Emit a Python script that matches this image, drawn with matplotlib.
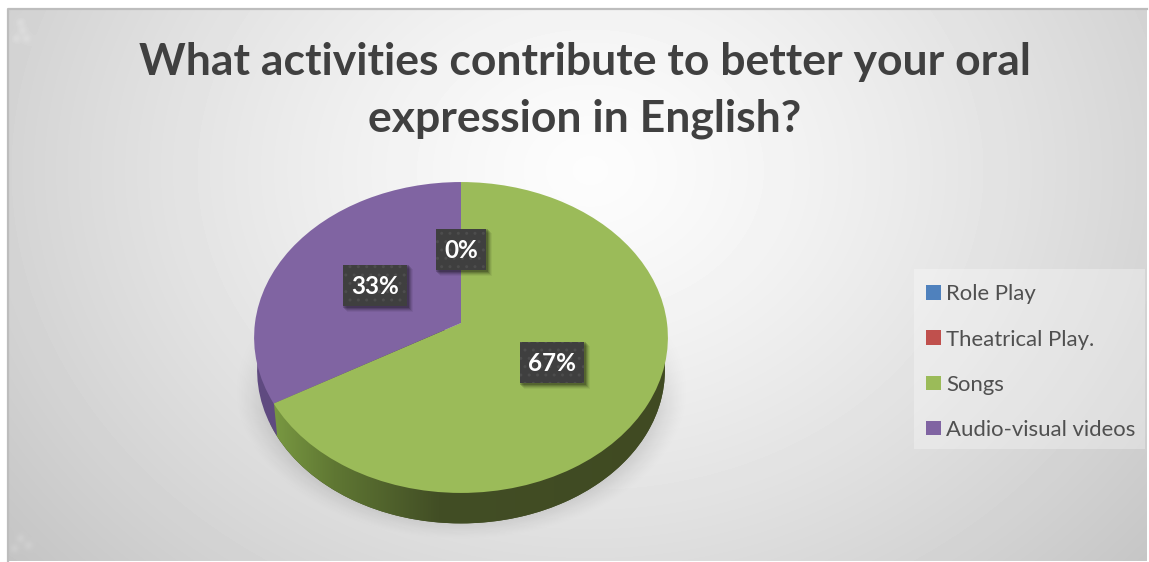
import numpy as np
import matplotlib
matplotlib.use("Agg")
import matplotlib.pyplot as plt
from matplotlib.patches import Rectangle, Circle
from matplotlib.path import Path
from matplotlib.transforms import Transform
from matplotlib.colors import LinearSegmentedColormap

plt.rcParams['font.family'] = ['Lato', 'DejaVu Sans']

TITLE = "What activities contribute to better your oral\nexpression in English?"
categories = ["Role Play", "Theatrical Play.", "Songs", "Audio-visual videos"]
values = [0, 0, 66.7, 33.3]
colors = ["#4f81bd", "#c0504d", "#9bbb59", "#8064a2"]
wall_colors = ["#3c5a80", "#803532", "#414c24", "#5f4a80"]
label_boxes = [None, (436, 229, 50, 41), (520, 342, 64, 41), (343, 265, 64, 41)]

W, H = 1149, 562


class DiscPerspective(Transform):
    """Maps the pie's unit circle on to a tilted disc seen in perspective."""
    input_dims = 2
    output_dims = 2
    is_separable = False
    has_inverse = False

    def __init__(self, cx, cy, r, a, b):
        super().__init__()
        self.p = (cx, cy, r, a, b)

    def transform_non_affine(self, pts):
        pts = np.asarray(pts, float)
        cx, cy, r, a, b = self.p
        d = 1 + b * pts[:, 1]
        return np.column_stack((cx + r * pts[:, 0] / d, cy - a * pts[:, 1] / d))


fig = plt.figure(figsize=(W / 100, H / 100), dpi=100, facecolor="white")
ax = fig.add_axes([0, 0, 1, 1])

# ---- chart-area background
x0, x1, y0, y1 = 8, 1147, 9, 561
yy, xx = np.mgrid[y0:y1, x0:x1]
t = np.sqrt(((xx - 590) / 640.0) ** 2 + ((yy - 170) / 520.0) ** 2)
bg = np.clip(0.99 - 0.18 * np.clip(t, 0, 1.3) ** 1.3, 0, 1)
for (sx, sy) in [(20, 22), (26, 38), (16, 38), (22, 30), (20, 538), (28, 545), (14, 548)]:
    bg += 0.03 * np.exp(-(((xx - sx) ** 2 + (yy - sy) ** 2) / 18.0))
ax.imshow(np.clip(bg, 0, 1), extent=(x0, x1, y1, y0), cmap="gray", vmin=0, vmax=1,
          aspect="auto", zorder=0, interpolation="bilinear")
ax.plot([x0, x0, x1], [y1, y0, y0], color="#bdbdbd", lw=1.6, zorder=1)

# ---- soft shadow below the pie
d = np.sqrt(((xx - 461) / 228.0) ** 2 + ((yy - 388) / 152.0) ** 2)
sh = np.clip((1 - d) / 0.30, 0, 1) ** 1.4 * np.clip((yy - 300) / 110.0, 0, 1)
rgba = np.zeros(sh.shape + (4,))
rgba[..., 3] = sh * 0.34
ax.imshow(rgba, extent=(x0, x1, y1, y0), aspect="auto", zorder=2, interpolation="bilinear")

# ---- pie: lower disc (side wall) then top face
top = DiscPerspective(461, 323, 206, 154.1, 0.0932)
low = DiscPerspective(461, 356, 203, 151.8, 0.0932)

walls, _ = ax.pie(values, colors=wall_colors, startangle=90, counterclock=False,
                  wedgeprops=dict(linewidth=0), normalize=True)
for w in walls:
    w.set_transform(low + ax.transData)
    w.set_zorder(3)

# green side wall: gradient over the whole lower disc
cmap = LinearSegmentedColormap.from_list(
    "wall", [(0, "#7a9a42"), (0.16, "#5f7733"), (0.42, "#424e25"), (1, "#404a22")])
grad = np.linspace(0, 1, 256)[None, :]
im = ax.imshow(grad, extent=(270, 670, 530, 330), cmap=cmap, aspect="auto", zorder=4)
disc = Circle((0, 0), 1, transform=low + ax.transData)
im.set_clip_path(disc)

wedges, _ = ax.pie(values, colors=colors, startangle=90, counterclock=False,
                   wedgeprops=dict(linewidth=0), normalize=True)
for w in wedges:
    w.set_transform(top + ax.transData)
    w.set_zorder(5)

# ---- data labels
for v, box in zip(values, label_boxes):
    if box is None:
        continue
    bx, by, bw, bh = box
    for k, al in zip((6, 5, 4, 3, 2), (0.05, 0.08, 0.11, 0.14, 0.18)):
        ax.add_patch(Rectangle((bx + k - 2, by + k - 2), bw + 2, bh + 2, fc="black", ec="none",
                               alpha=al, zorder=6))
    ax.add_patch(Rectangle((bx, by), bw, bh, fc="#3f3f3f", ec="#4d4d4d", lw=0, hatch="..", zorder=7))
    ax.text(bx + bw / 2, by + bh / 2 + 1, f"{v:.0f}%", color="white", fontsize=17.5,
            fontweight="bold", ha="center", va="center", zorder=8)

# ---- title
ax.text(585, 90.5, TITLE, color="#404040", fontsize=32, fontweight="bold", ha="center",
        va="center", linespacing=1.5, zorder=8)

# ---- legend
ax.add_patch(Rectangle((914, 269), 231, 180, fc="white", ec="none", alpha=0.3, zorder=7))

ax.set_xlim(0, W)
ax.set_ylim(H, 0)
ax.set_aspect("auto")
ax.axis("off")

# purple side wall stops at the seam under the slice boundary (pie wedges are unclipped by default)
walls[3].set_zorder(4.5)
seam = Path([(200, 300), (274, 300), (274, 404), (278, 445), (200, 445), (200, 300)])
walls[3].set_clip_on(True)
walls[3].set_clip_path(seam, transform=ax.transData)

leg = ax.legend(wedges, categories, loc="upper left", bbox_to_anchor=(914, 272),
                bbox_transform=ax.transData, borderaxespad=0, frameon=False, fontsize=15.9,
                labelcolor="#505050", handlelength=0.64, handleheight=0.64, handletextpad=0.27,
                labelspacing=1.14, borderpad=0.56)
leg.set_zorder(8)

fig.savefig("out.png", dpi=100, facecolor="white")
